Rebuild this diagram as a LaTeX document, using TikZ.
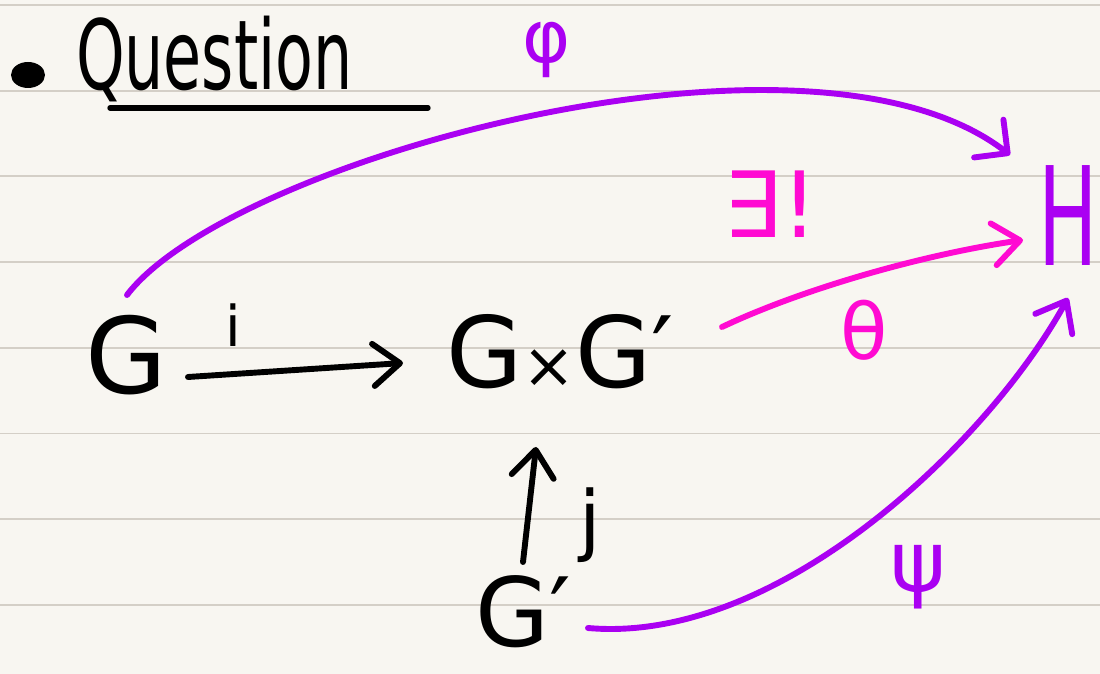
\documentclass[tikz,border=0pt]{standalone}
\usepackage{fontspec}
\usepackage{graphicx}
\setmainfont{DejaVu Sans}
\usetikzlibrary{arrows.meta}
\definecolor{paper}{HTML}{F8F6F1}
\definecolor{rulegray}{HTML}{D4CFC7}
\definecolor{purp}{HTML}{AA00F2}
\definecolor{mag}{HTML}{FF0AD2}
\tikzset{
  ink/.style={line width=4.2pt, line cap=round, line join=round},
  blk/.style={ink, draw=black},
  pur/.style={ink, draw=purp},
  mgt/.style={ink, draw=mag},
  barb/.style={-{Straight Barb[length=19pt,width=30pt,round]}},
  hook/.style={-{Straight Barb[length=17pt,width=34pt,round]}},
  lbl/.style={inner sep=0pt, outer sep=0pt},
  fs/.style={font=\fontsize{#1}{#1}\selectfont},
}
\begin{document}
\begin{tikzpicture}[x=0.025cm, y=-0.025cm]
\fill[paper] (0,0) rectangle (1100,674);
\useasboundingbox (0,0) rectangle (1100,674);
\foreach \k in {0,...,7} \draw[rulegray, line width=1.2pt] (0,5+85.67*\k) -- (1100,5+85.67*\k);

% title
\fill[black] (28,75) ellipse [x radius=17, y radius=13];
\node[lbl, fs=55, anchor=base west] (title) at (76,90) {\scalebox{0.8}[1.25]{Question}};
\draw[ink, line width=3.8pt] (110,108) -- (428,108);

% objects
\node[lbl, fs=75] (G)  at (126,355) {G};
\node[lbl, fs=70] (GG) at (560,352) {G{\fontsize{45}{45}\selectfont ×}G′};
\node[lbl, fs=68] (Gp) at (523,612) {G′};
\node[lbl, fs=75, text=purp] (H) at (1068,216) {\scalebox{0.75}[1.3]{H}};

% labels
\node[lbl, fs=40] (li) at (233,325) {i};
\node[lbl, fs=55] (lj) at (590,525) {j};
\node[lbl, fs=52, text=purp] (lphi) at (547,50) {φ};
\node[lbl, fs=60, text=purp] (lpsi) at (918,577) {ψ};
\node[lbl, fs=55, text=mag] (lth) at (864,330) {θ};
\node[lbl, fs=65, text=mag] (lex) at (771,204) {∃!};

% arrows
\draw[blk, barb] ([shift={(62,22)}]G.center) -- ([shift={(-157,11)}]GG.center);
\draw[blk, barb] ([shift={(0,-50)}]Gp.center) -- ([shift={(-24,95)}]GG.center);
\draw[pur, hook] ([shift={(1,-60)}]G.center) .. controls (230,160) and (810,0) .. ([shift={(-58,-61)}]H.center);
\draw[mgt, barb] ([shift={(162,-25)}]GG.center) .. controls (800,290) and (920,255) .. ([shift={(-45,24)}]H.center);
\draw[pur, barb] ([shift={(65,16)}]Gp.center) .. controls (780,645) and (990,440) .. ([shift={(0,82)}]H.center);
\end{tikzpicture}
\end{document}
